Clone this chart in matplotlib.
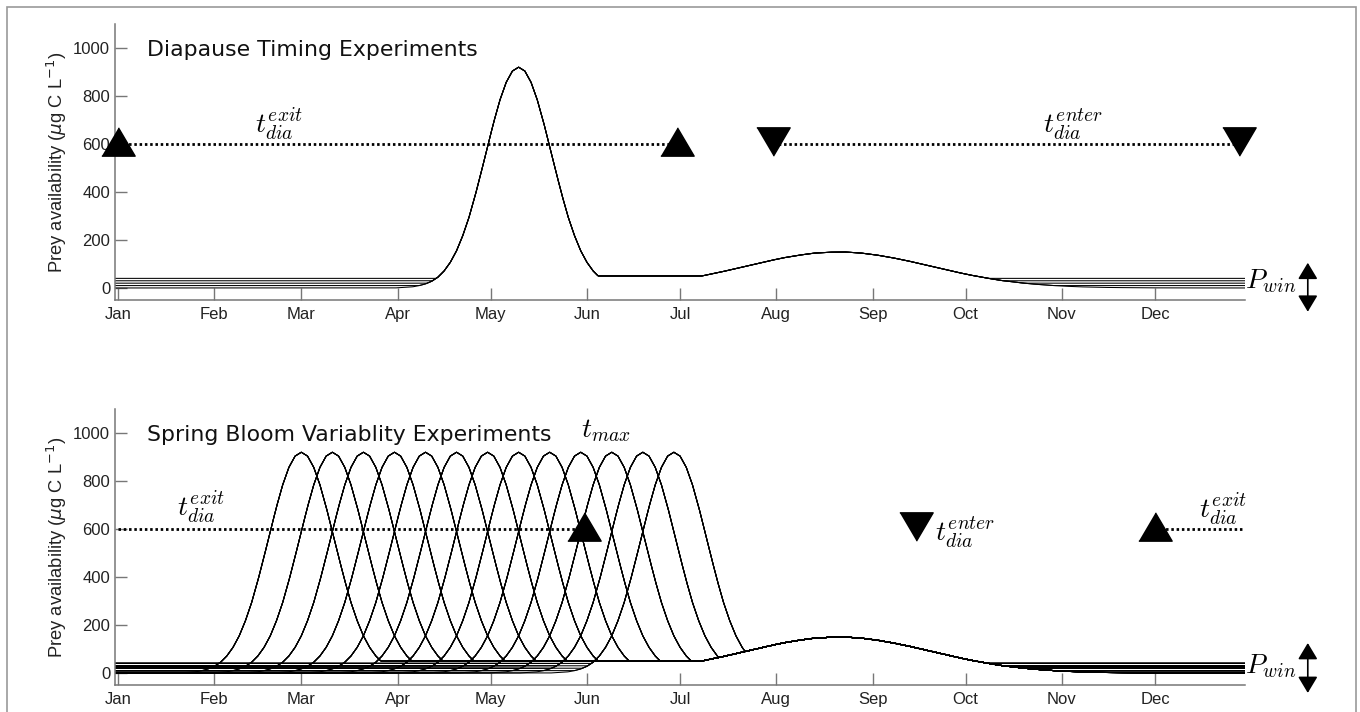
import numpy as np
import matplotlib
matplotlib.use("Agg")
import matplotlib.pyplot as plt
from matplotlib.patches import Rectangle

plt.rcParams["font.family"] = ["Liberation Sans", "DejaVu Sans"]
plt.rcParams["mathtext.fontset"] = "cm"

# ── values ───────────────────────────────────────────────────────
month_days   = [1, 32, 60, 91, 121, 152, 182, 213, 244, 274, 305, 335]
month_labels = ["Jan", "Feb", "Mar", "Apr", "May", "Jun",
                "Jul", "Aug", "Sep", "Oct", "Nov", "Dec"]
y_ticks = [0, 200, 400, 600, 800, 1000]

# spring bloom profile, days from the bloom peak
bloom_offset = [-40, -38, -36, -34, -32, -30, -28, -26, -24, -22, -20,
                -18, -16, -14, -12, -10, -8, -6, -4, -2, 0,
                2, 4, 6, 8, 10, 12, 14, 16, 18, 20,
                22, 24, 26, 28, 30, 32, 34, 36, 38, 40]
bloom_value = [0, 1.5, 3, 5, 10, 17, 28, 45, 71, 107, 155,
               218, 294, 385, 485, 590, 692, 784, 857, 904, 920,
               904, 857, 784, 692, 590, 485, 385, 294, 218, 155,
               107, 71, 45, 28, 17, 10, 5, 3, 1.5, 0]

summer_level = 50
summer_end = 189

# late summer / autumn bloom
fall_day = [189, 195, 200, 205, 210, 215, 220, 225, 230, 235, 240, 245,
            250, 255, 260, 265, 270, 275, 280, 285, 290, 295, 300, 305,
            310, 315, 320, 330, 340, 364]
fall_value = [50, 66, 81, 96, 111, 125, 136, 145, 149, 150, 146, 138,
              127, 114, 99, 84, 69, 55, 43, 32, 24, 17, 12, 8,
              5, 3.3, 2.1, 0.7, 0.2, 0]

p_win = [0, 10, 20, 30, 40]

timing_peaks = [130]
spring_peaks = [60, 70, 80, 90, 100, 110, 120, 130, 140, 150, 160, 170, 180]

dia_level = 600
timing_exit  = [1, 181]
timing_enter = [212, 362]
spring_exit_a = [1, 151]
spring_enter  = [258]
spring_exit_b = [335, 363]

# ── drawing ──────────────────────────────────────────────────────
days = np.arange(0, 364.01, 0.25)

TRI_UP = [(-1, -0.7), (1, -0.7), (0, 1.0)]
TRI_DN = [(-1, 1.0), (1, 1.0), (0, -0.7)]
DOTS = dict(color="k", lw=2.0, dashes=(0.9, 1.0))
MATH = dict(fontsize=20, color="k")
MARK = dict(ls="none", ms=24, color="k", zorder=5, clip_on=False)


def prey_curve(peak, pwin):
    bloom = np.interp(days - peak, bloom_offset, bloom_value, left=0, right=0)
    fall = np.interp(days, fall_day, fall_value, left=summer_level, right=0)
    floor = np.where(days < peak, pwin,
                     np.where(days < summer_end, summer_level, np.maximum(fall, pwin)))
    return np.maximum(bloom, floor)


def style_axes(ax, title):
    ax.set_xlim(0, 364)
    ax.set_ylim(-50, 1100)
    ax.spines[["top", "right"]].set_visible(False)
    for s in ("left", "bottom"):
        ax.spines[s].set_color("#777")
        ax.spines[s].set_linewidth(1.1)
    ax.set_xticks(month_days, month_labels)
    ax.set_yticks(y_ticks)
    ax.tick_params(direction="in", length=8.5, width=1, color="#777",
                   labelsize=12, labelcolor="#222")
    ax.tick_params(axis="x", pad=5)
    ax.tick_params(axis="y", pad=3.5)
    ax.set_ylabel(r"Prey availability ($\mu$g C L$^{-1}$)", fontsize=13.2,
                  color="#222", math_fontfamily="dejavusans")
    ax.yaxis.set_label_coords(-0.041, 0.5)
    ax.text(10.3, 966, title, fontsize=15.8, family="DejaVu Sans",
            va="baseline", color="#111")


def pwin_marker(ax, y_top, y_bot):
    ax.text(364, 0, r"$P_{win}$", va="baseline", ha="left", **MATH)
    ax.annotate("", xy=(384.2, y_top), xytext=(384.2, y_bot),
                arrowprops=dict(arrowstyle="<|-|>,head_length=0.5,head_width=0.3",
                                mutation_scale=20, color="k", lw=1.2,
                                shrinkA=0, shrinkB=0),
                annotation_clip=False)


fig = plt.figure(figsize=(13.6, 7.12), dpi=100)
ax1 = fig.add_axes([0.0846, 0.5787, 0.8309, 0.3876])
ax2 = fig.add_axes([0.0846, 0.0379, 0.8309, 0.3876])

# ── panel 1: diapause timing ──
style_axes(ax1, "Diapause Timing Experiments")
for pk in timing_peaks:
    for w in p_win:
        ax1.plot(days, prey_curve(pk, w), color="k", lw=0.75)
ax1.plot(timing_exit, [dia_level] * 2, **DOTS)
ax1.plot(timing_enter, [dia_level] * 2, **DOTS)
ax1.plot(timing_exit, [dia_level] * 2, marker=TRI_UP, **MARK)
ax1.plot(timing_enter, [dia_level] * 2, marker=TRI_DN, **MARK)
ax1.text(45, 645, r"$t_{dia}^{exit}$", **MATH)
ax1.text(299, 645, r"$t_{dia}^{enter}$", **MATH)
pwin_marker(ax1, 105, -99)

# ── panel 2: spring bloom variability ──
style_axes(ax2, "Spring Bloom Variablity Experiments")
for pk in spring_peaks:
    for w in p_win:
        ax2.plot(days, prey_curve(pk, w), color="k", lw=0.75)
ax2.plot(spring_exit_a, [dia_level] * 2, **DOTS)
ax2.plot(spring_exit_b, [dia_level] * 2, **DOTS)
ax2.plot(spring_exit_a[-1:], [dia_level], marker=TRI_UP, **MARK)
ax2.plot(spring_exit_b[:1], [dia_level], marker=TRI_UP, **MARK)
ax2.plot(spring_enter, [dia_level], marker=TRI_DN, **MARK)
ax2.text(20, 651, r"$t_{dia}^{exit}$", **MATH)
ax2.text(264, 547, r"$t_{dia}^{enter}$", **MATH)
ax2.text(349, 644, r"$t_{dia}^{exit}$", **MATH)
ax2.text(150, 982, r"$t_{max}$", **MATH)
pwin_marker(ax2, 125, -83)

# outer frame
fig.add_artist(Rectangle((7 / 1360, -0.05), 1349 / 1360, 705 / 712 + 0.05,
                         transform=fig.transFigure, fill=False,
                         ec="#999", lw=1.2))

fig.savefig("out.png", dpi=100)
